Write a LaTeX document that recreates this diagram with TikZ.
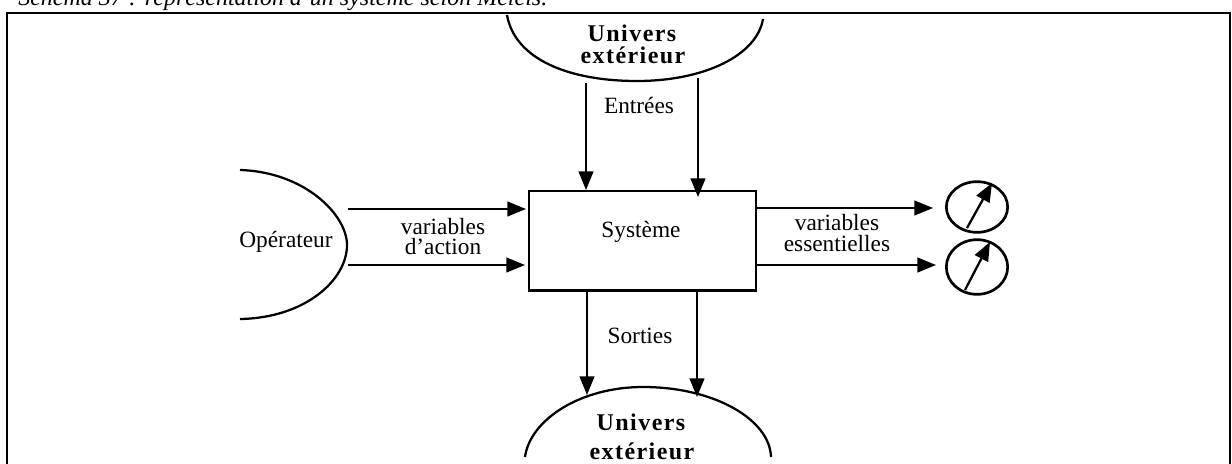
\documentclass[tikz,border=0pt]{standalone}
\usepackage{fontspec}
\setmainfont{Liberation Serif}
\usetikzlibrary{arrows.meta,shapes.geometric}
\tikzset{
  px/.style={x=0.75pt,y=-0.75pt},
  ln/.style={draw=black,line width=1.7pt},
  ar/.style={ln,-{Triangle[length=14pt,width=11pt]}},
  gauge/.style={ellipse,draw=black,line width=2pt,inner sep=0pt,minimum width=46pt},
  lbl/.style={font=\fontsize{17.5pt}{15pt}\selectfont,align=center,inner sep=0pt},
  bold/.style={font=\fontsize{18pt}{20pt}\selectfont\bfseries\addfontfeature{LetterSpace=6},align=center,inner sep=0pt}
}
\begin{document}
\begin{tikzpicture}[px]
\useasboundingbox (0,0) rectangle (1232,464);
\fill[white] (0,0) rectangle (1232,464);
\node[anchor=base west,inner sep=0pt,font=\fontsize{18pt}{20pt}\selectfont\itshape] (title) at (18,5) {Schéma 37 : représentation d'un système selon Meleis.};
\draw[draw=black,line width=2pt] (7,464) -- (7,13) -- (1230,13) -- (1230,464);
% upper universe
\draw[ln] (507,15) .. controls (515,60) and (570,81) .. (637,81) .. controls (705,81) and (757,55) .. (763,19);
\node[bold] (u1) at (632,33) {Univers};
\node[bold] (u2) at (633,55) {extérieur};
\node[lbl] (ent) at (639,106) {Entrées};
% system
\node[draw=black,line width=1.7pt,inner sep=0pt,anchor=north west,minimum width=170pt,minimum height=74.5pt] (sys) at (528,190) {};
\node[lbl] (systxt) at (641,232) {Système};
\coordinate (e1s) at (586,83);
\coordinate (e2s) at (698,78);
\coordinate (e1e) at (586,190);
\coordinate (e2e) at (698,197);
\draw[ar] (e1s) -- (e1e);
\draw[ar] (e2s) -- (e2e);
% operator
\draw[ln] (240,170) .. controls (305,172) and (347,215) .. (347,245) .. controls (347,280) and (305,318) .. (240,319);
\node[lbl] (op) at (286,242) {Opérateur};
\coordinate (a1) at (348,209);
\coordinate (a2) at (348,265);
\coordinate (a1e) at (526,209);
\coordinate (a2e) at (525,265);
\draw[ar] (a1) -- (a1e);
\draw[ar] (a2) -- (a2e);
\node[lbl] (va) at (443,237) {variables\\d'action};
% outputs
\coordinate (o1) at (755,208);
\coordinate (o2) at (757,265);
\coordinate (o1e) at (933,208);
\coordinate (o2e) at (936,265);
\draw[ar] (o1) -- (o1e);
\draw[ar] (o2) -- (o2e);
\node[lbl] (ve) at (837,233) {variables\\[1pt]essentielles};
\node[gauge,minimum height=38pt] (g1) at (977,207) {};
\node[gauge,minimum height=41pt] (g2) at (977,267) {};
\coordinate (g1a) at (967,228);
\coordinate (g1b) at (992,183);
\coordinate (g2a) at (965,290);
\coordinate (g2b) at (990,242);
\draw[ar] (g1a) -- (g1b);
\draw[ar] (g2a) -- (g2b);
% lower universe
\coordinate (s1) at (587,289);
\coordinate (s2) at (697,289);
\coordinate (s1e) at (587,395);
\coordinate (s2e) at (697,397);
\draw[ar] (s1) -- (s1e);
\draw[ar] (s2) -- (s2e);
\node[lbl] (sor) at (640,336) {Sorties};
\draw[ln] (525,457) .. controls (530,420) and (580,387) .. (643,387) .. controls (715,387) and (770,420) .. (771,457);
\node[bold] (u3) at (641,422) {Univers};
\node[bold] (u4) at (642,451) {extérieur};
\end{tikzpicture}
\end{document}
